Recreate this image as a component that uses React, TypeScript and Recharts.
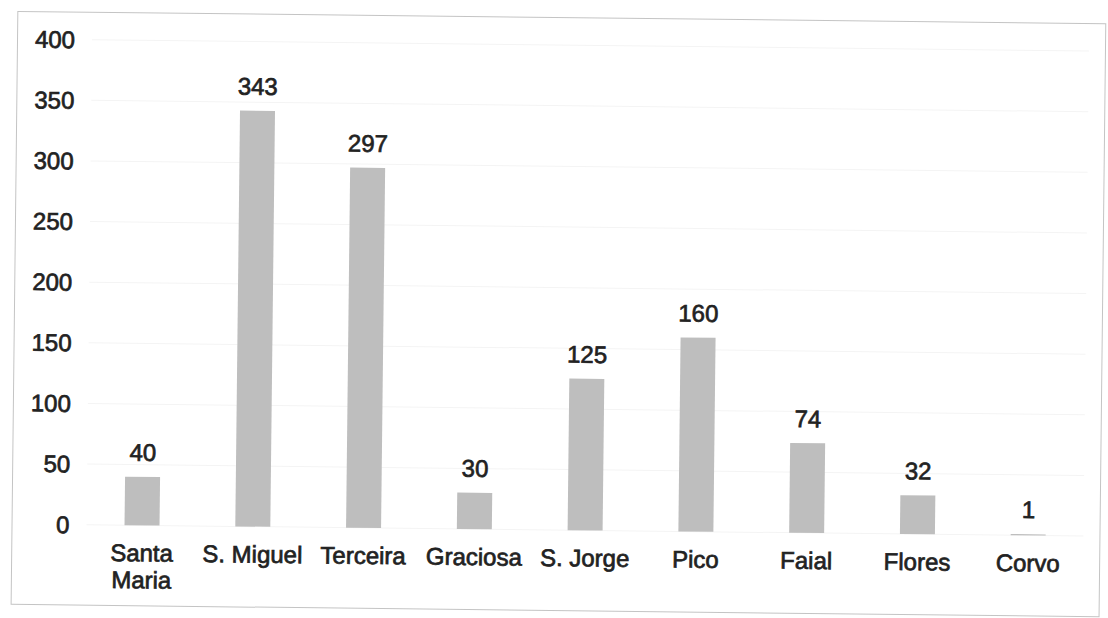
import { Bar, BarChart, CartesianGrid, LabelList, XAxis, YAxis } from "recharts"

const islands = ["Santa\nMaria", "S. Miguel", "Terceira", "Graciosa", "S. Jorge", "Pico", "Faial", "Flores", "Corvo"]
const counts = [40, 343, 297, 30, 125, 160, 74, 32, 1]
const yTicks = [0, 50, 100, 150, 200, 250, 300, 350, 400]

const data = islands.map((island, i) => ({ island, count: counts[i] }))

const font = "'Liberation Sans', Arial, sans-serif"
const ink = "#222"

function IslandTick({ x, y, payload }: any) {
  const lines = String(payload.value).split("\n")
  return (
    <text x={x} y={y} textAnchor="middle" fill={ink} fontSize={24} fontFamily={font} stroke={ink} strokeWidth={0.7}>
      {lines.map((line, i) => (
        <tspan key={i} x={x} dy={i === 0 ? "0.71em" : 27}>
          {line}
        </tspan>
      ))}
    </text>
  )
}

export default function App() {
  return (
    <div
      style={{
        position: "absolute",
        left: 0,
        top: 0,
        width: 1108,
        height: 618,
        background: "#fff",
        transform: "rotate(0.65deg)",
      }}
    >
      {/* scanned page frame */}
      <div
        style={{
          position: "absolute",
          left: 14,
          top: 17,
          width: 1089,
          height: 594,
          border: "1.5px solid #c4c4c4",
          boxSizing: "border-box",
        }}
      />
      <div style={{ position: "absolute", left: 0, top: 0 }}>
        <BarChart width={1108} height={618} data={data} margin={{ top: 45, right: 22, bottom: 58, left: 0 }}>
          <CartesianGrid vertical={false} stroke="#f4f4f4" />
          <XAxis
            dataKey="island"
            height={30}
            interval={0}
            axisLine={false}
            tickLine={false}
            tickSize={0}
            tickMargin={19}
            tick={<IslandTick />}
          />
          <YAxis
            width={89}
            domain={[0, 400]}
            ticks={yTicks}
            axisLine={false}
            tickLine={false}
            tickSize={0}
            tickMargin={17}
            tick={{ fill: ink, fontSize: 24, fontFamily: font, stroke: ink, strokeWidth: 0.7 }}
          />
          <Bar dataKey="count" fill="#bebebe" barSize={35} isAnimationActive={false}>
            <LabelList
              dataKey="count"
              position="top"
              offset={16}
              fill={ink}
              fontSize={24}
              fontFamily={font}
              stroke={ink}
              strokeWidth={0.7}
            />
          </Bar>
        </BarChart>
      </div>
    </div>
  )
}
